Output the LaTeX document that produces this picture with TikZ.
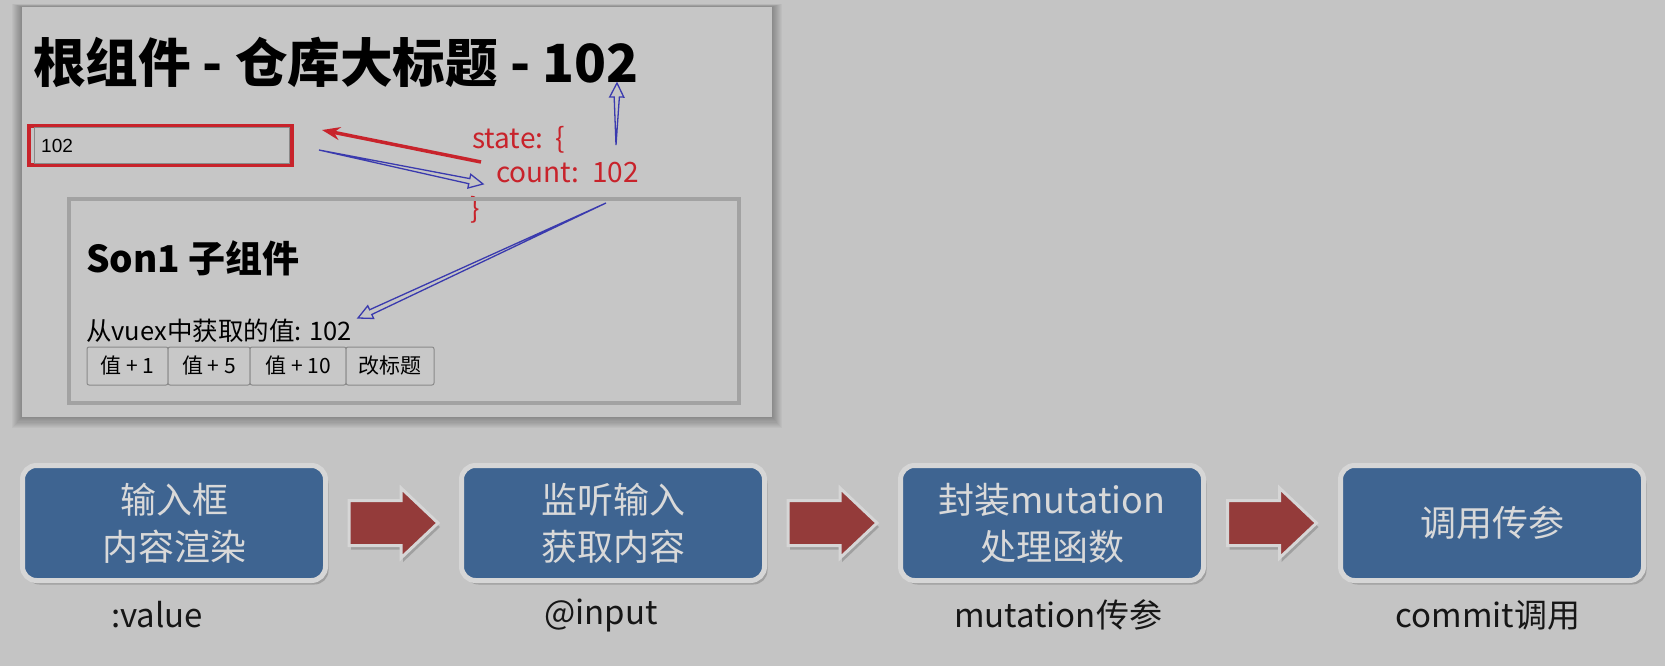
\documentclass[tikz,border=0pt]{standalone}
\usepackage{fontspec}
\setmainfont{Noto Sans CJK SC}
\newfontfamily\uifont{Liberation Sans}
\usetikzlibrary{calc,arrows.meta}
\definecolor{pagebg}{HTML}{C4C4C4}
\definecolor{panelbg}{HTML}{C6C6C6}
\definecolor{annotred}{HTML}{C8232B}
\definecolor{annotblue}{HTML}{3A3AAE}
\definecolor{sonborder}{HTML}{A2A2A2}
\definecolor{flowblue}{HTML}{3E6491}
\definecolor{boxborder}{HTML}{D6D6D6}
\definecolor{boxtext}{HTML}{D9D9D9}
\definecolor{arrowred}{HTML}{943B3A}
\definecolor{btnborder}{HTML}{8A8A8A}
\definecolor{labeltext}{HTML}{161616}
\newcommand{\hollowarrow}[2]{%
  \coordinate (hbase) at ($(#2)!14pt!(#1)$);
  \coordinate (hs1) at ($(hbase)!2.6pt!90:(#2)$);
  \coordinate (hs2) at ($(hbase)!2.6pt!-90:(#2)$);
  \coordinate (hw1) at ($(hbase)!7pt!90:(#2)$);
  \coordinate (hw2) at ($(hbase)!7pt!-90:(#2)$);
  \draw[hollow] (#1) -- (hs1) -- (hw1) -- (#2) -- (hw2) -- (hs2) -- cycle;}
\begin{document}
\begin{tikzpicture}[x=1pt,y=-1pt,
  hollow/.style={draw=annotblue,line width=1.3pt,line join=miter},
  annottext/.style={text=annotred,font=\fontsize{28}{32}\selectfont,anchor=west,inner sep=0},
  btn/.style={draw=btnborder,fill=panelbg!96!white,line width=1pt,rounded corners=2pt,minimum height=38,inner sep=0,font=\fontsize{21}{24}\selectfont},
  flowbox/.style={fill=flowblue,draw=boxborder,line width=5pt,rounded corners=14pt,minimum width=303,minimum height=115,inner sep=0,text=boxtext,font=\fontsize{36}{47}\selectfont,align=center,
    preaction={fill=black,opacity=0.18,transform canvas={shift={(3pt,-4pt)}}}},
  steplabel/.style={text=labeltext,font=\fontsize{33}{38}\selectfont,inner sep=0},
  bigarrow/.pic={
    \filldraw[fill=arrowred,draw=boxborder,line width=3pt,line join=miter,
      preaction={fill=black,opacity=0.18,transform canvas={shift={(2pt,-4pt)}}}]
      (-44.5,-22.5) -- (7.5,-22.5) -- (7.5,-35) -- (44.5,0) -- (7.5,35) -- (7.5,22.5) -- (-44.5,22.5) -- cycle;}
]
\useasboundingbox[fill=pagebg] (0,0) rectangle (1665,666);

% panel shadow
\foreach \i in {1,...,10}{
  \fill[black,opacity=0.032] (22-\i*1.0,7-\i*0.3) rectangle (772+\i*1.0,417+\i*1.1);
}
\fill[panelbg] (22,7) rectangle (772,417);

% title
\node[anchor=west,inner sep=0,font=\bfseries\fontsize{52.6}{60}\selectfont] (title) at (33,62) {根组件 - 仓库大标题 - 102};

% input box
\node[draw=annotred,line width=4pt,minimum width=263,minimum height=39,inner sep=0] (input) at (160.5,145.5) {};
\draw[btnborder,line width=1pt] (34,128) rectangle (289,163);
\node[anchor=west,inner sep=0,font=\uifont\fontsize{19}{22}\selectfont] (inval) at (41,146) {102};

% state text
\node[annottext] (state) at (472,140) {state:\ \ \{};
\node[annottext] (count) at (496,173) {count:\ \ 102};
\node[annottext] (close) at (470,210) {\}};

% son box
\node[draw=sonborder,line width=4pt,minimum width=670,minimum height=204,inner sep=0] (son) at (404,301) {};
\node[anchor=west,inner sep=0,font=\bfseries\fontsize{37}{42}\selectfont] (sontitle) at (86,258) {Son1 子组件};
\node[anchor=west,inner sep=0,font=\fontsize{25.5}{30}\selectfont] (sonval) at (86,331) {从vuex中获取的值: 102};
\node[btn,minimum width=81] (btn1) at (127.5,366) {值 + 1};
\node[btn,minimum width=82] (btn2) at (209,366) {值 + 5};
\node[btn,minimum width=96] (btn3) at (298,366) {值 + 10};
\node[btn,minimum width=88] (btn4) at (390,366) {改标题};

% annotation arrows
\coordinate (redtail) at (481,162);
\coordinate (redtip) at (322,130);
\draw[annotred,line width=3.5pt,-{Stealth[length=18pt,width=13pt]}] (redtail) -- (redtip);
\coordinate (bt1) at (319,150);
\coordinate (bh1) at (483,184);
\hollowarrow{bt1}{bh1}
\coordinate (bt2) at (616,145);
\coordinate (bh2) at (617,83);
\hollowarrow{bt2}{bh2}
\coordinate (bt3) at (606,203);
\coordinate (bh3) at (358,318);
\hollowarrow{bt3}{bh3}

% flow boxes
\node[flowbox] (f1) at (174,523) {输入框\\内容渲染};
\node[flowbox] (f2) at (613,523) {监听输入\\获取内容};
\node[flowbox] (f3) at (1052,523) {封装mutation\\处理函数};
\node[flowbox] (f4) at (1492,523) {调用传参};

\pic at ($(f1.east)!0.5!(f2.west)$) {bigarrow};
\pic at ($(f2.east)!0.5!(f3.west)$) {bigarrow};
\pic at ($(f3.east)!0.5!(f4.west)$) {bigarrow};

\node[steplabel] (l1) at (157,615) {:value};
\node[steplabel] (l2) at (601,615) {@input};
\node[steplabel] (l3) at (1058,615) {mutation传参};
\node[steplabel] (l4) at (1488,615) {commit调用};
\end{tikzpicture}
\end{document}
